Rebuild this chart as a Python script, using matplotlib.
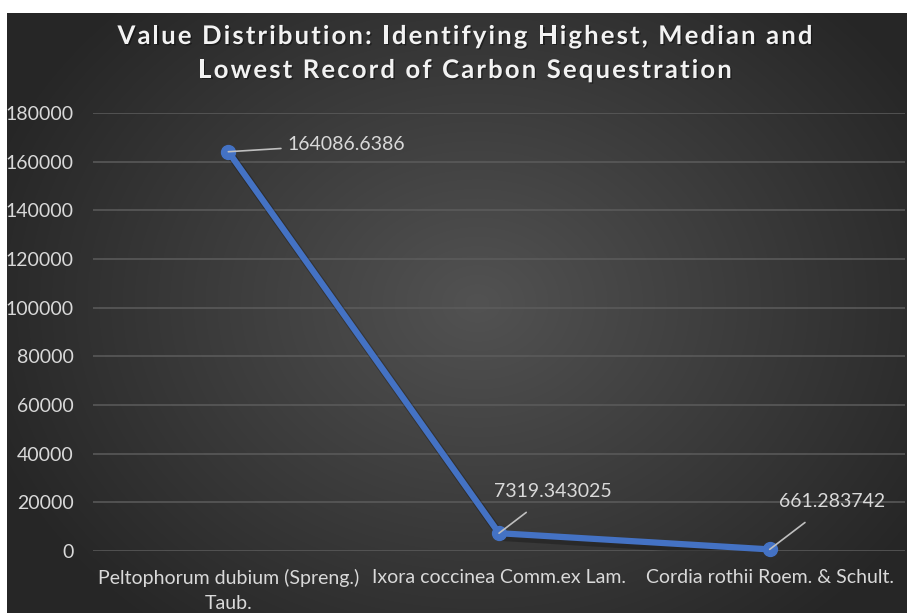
import numpy as np
import matplotlib
matplotlib.use("Agg")
import matplotlib.pyplot as plt
from matplotlib import font_manager
from matplotlib.ft2font import FT2Font
import matplotlib.patheffects as pe

categories = ["Peltophorum dubium (Spreng.)\nTaub.",
              "Ixora coccinea Comm.ex Lam.",
              "Cordia rothii Roem. & Schult."]
values = [164086.6386, 7319.343025, 661.283742]
value_labels = ["164086.6386", "7319.343025", "661.283742"]
yticks = [0, 20000, 40000, 60000, 80000, 100000, 120000, 140000, 160000, 180000]
title_lines = ["Value Distribution: Identifying Highest, Median and",
               "Lowest Record of Carbon Sequestration"]

FONT = "Lato"
W, H = 907, 613
DPI = 100
fig = plt.figure(figsize=(W / DPI, H / DPI), dpi=DPI)
fig.patch.set_facecolor("white")

# background with radial gradient
bg = fig.add_axes([7 / W, 0, 1 - 7 / W, 1 - 13 / H])
bg.set_axis_off()
yy, xx = np.mgrid[0:600, 0:900]
cx, cy = 470, 290
r = np.sqrt(((xx - cx) / 520) ** 2 + ((yy - cy) / 420) ** 2)
r = np.clip(r, 0, 1)
c0 = np.array([0x52, 0x52, 0x52]) / 255
c1 = np.array([0x26, 0x26, 0x26]) / 255
img = c0[None, None, :] * (1 - r[..., None]) + c1[None, None, :] * r[..., None]
bg.imshow(img, aspect="auto", extent=[0, 1, 0, 1])
bg.set_xlim(0, 1)
bg.set_ylim(0, 1)

left, right = 93 / W, 905 / W
bottom, top = (H - 551) / H, (H - 113) / H
ax = fig.add_axes([left, bottom, right - left, top - bottom])
ax.patch.set_alpha(0)
for s in ax.spines.values():
    s.set_visible(False)

x = np.arange(len(categories))
ax.set_xlim(-0.5, len(categories) - 0.5)
ax.set_ylim(0, 180000)
ax.set_yticks(yticks)
ax.set_yticklabels([str(t) for t in yticks])
ax.grid(axis="y", color="#5c5c5c", linewidth=1.1)
ax.set_axisbelow(True)
ax.tick_params(axis="both", length=0, colors="#d9d9d9", labelsize=14)
ax.tick_params(axis="y", pad=14)
ax.tick_params(axis="x", pad=13)
ax.set_xticks(x)
ax.set_xticklabels(categories, linespacing=1.55)
for lbl in ax.get_xticklabels() + ax.get_yticklabels():
    lbl.set_fontfamily(FONT)
    lbl.set_color("#d9d9d9")

# shadow
ax.plot(x + 0.01, np.array(values) - 1500, color="black", alpha=0.25, linewidth=6,
        solid_joinstyle="round", zorder=2)
ax.plot(x, values, color="#4472c4", linewidth=4.5, marker="o", markersize=10,
        markerfacecolor="#4472c4", markeredgecolor="#4472c4", solid_joinstyle="round",
        zorder=3, clip_on=False)

text_pos = [(0.22, 164086.6386 + 3000), (1.2, 7319.343025 + 17000), (2.23, 661.283742 + 19500)]
for i, (v, t) in enumerate(zip(values, value_labels)):
    tx, ty = text_pos[i]
    ha = "left" if i == 0 else "center"
    ax.annotate(t, xy=(i, v), xytext=(tx, ty), textcoords="data",
                ha=ha, va="center", color="#d9d9d9", fontsize=14, family=FONT,
                arrowprops=dict(arrowstyle="-", color="#bfbfbf", lw=1.2,
                                shrinkA=3 if i == 0 else 11, shrinkB=0,
                                connectionstyle="arc3,rad=0"),
                zorder=4)

# letter-spaced title
TSIZE = 18.5
prop = font_manager.FontProperties(family=FONT, weight="bold", size=TSIZE)
ft = FT2Font(font_manager.findfont(prop))
ft.set_size(TSIZE, DPI)


def advances(s):
    return [ft.load_char(ord(c)).linearHoriAdvance / 65536 for c in s]


adv0 = advances(title_lines[0])
tracking = (695 - sum(adv0)) / (len(title_lines[0]) - 1)
center_x = 465
baselines = [44, 78]
for line, base in zip(title_lines, baselines):
    adv = advances(line)
    total = sum(adv) + tracking * (len(line) - 1)
    xpos = center_x - total / 2
    for c, a in zip(line, adv):
        if c != " ":
            fig.text(xpos / W, 1 - base / H, c, ha="left", va="baseline",
                     color="#f2f2f2", fontproperties=prop,
                     path_effects=[pe.withSimplePatchShadow(offset=(1, -1), shadow_rgbFace="black", alpha=0.4)])
        xpos += a + tracking

fig.savefig("out.png", dpi=DPI, facecolor=fig.get_facecolor())
